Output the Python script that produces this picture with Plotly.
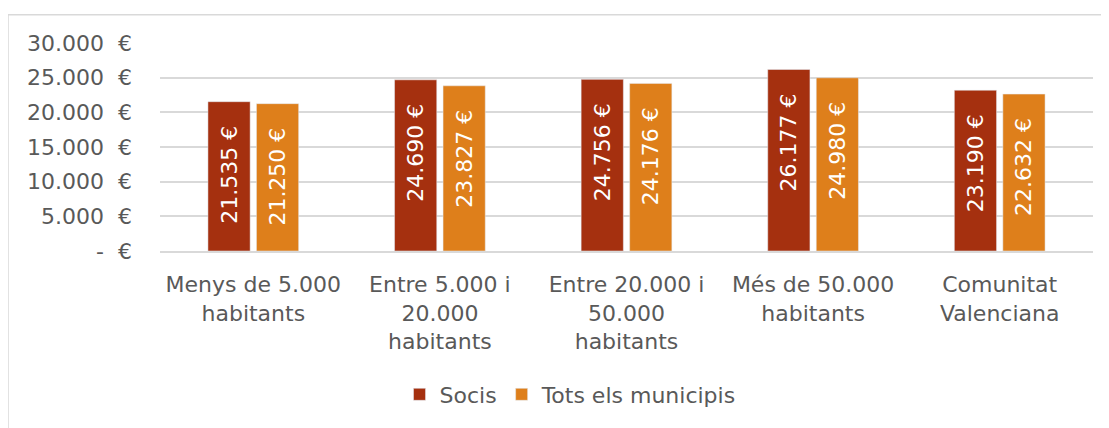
import plotly.graph_objects as go

categories = ["Menys de 5.000<br>habitants", "Entre 5.000 i<br>20.000<br>habitants",
              "Entre 20.000 i<br>50.000<br>habitants", "Més de 50.000<br>habitants",
              "Comunitat<br>Valenciana"]
socis = [21535, 24690, 24756, 26177, 23190]
tots = [21250, 23827, 24176, 24980, 22632]
tick_vals = [0, 5000, 10000, 15000, 20000, 25000, 30000]
tick_text = ["-\u00a0\u00a0€", "5.000\u00a0\u00a0€", "10.000\u00a0\u00a0€", "15.000\u00a0\u00a0€",
             "20.000\u00a0\u00a0€", "25.000\u00a0\u00a0€", "30.000\u00a0\u00a0€"]

FONT = "DejaVu Sans"
GREY = "#595959"
PAD = "\u00a0" * 3


def eur(v):
    return f"{v:,}".replace(",", ".") + "\u00a0€" + PAD


fig = go.Figure()
for name, vals, col in [("Socis", socis, "#A5300F"), ("Tots els municipis", tots, "#DE7F1B")]:
    fig.add_trace(go.Bar(
        x=categories, y=vals, name=name, marker_color=col,
        text=[eur(v) for v in vals], textposition="inside", insidetextanchor="end",
        textangle=-90, textfont=dict(color="white", size=22, family=FONT),
    ))

# page body adds an 8px offset, so the figure is 8px smaller on each side
fig.update_layout(
    width=1101, height=420,
    margin=dict(l=152, r=16, t=35, b=171),
    paper_bgcolor="white", plot_bgcolor="white",
    barmode="group", bargap=0.48, bargroupgap=0.13,
    font=dict(family=FONT, size=22, color=GREY),
    showlegend=True,
    legend=dict(orientation="h", x=0.44, xanchor="center", y=-0.69, yanchor="middle",
                font=dict(size=22, color=GREY), itemwidth=30, traceorder="normal"),
    uniformtext=dict(mode=False),
)
fig.update_yaxes(range=[0, 30000], tickvals=tick_vals, ticktext=tick_text,
                 showgrid=True, gridcolor="#D9D9D9", gridwidth=1.5, zeroline=False,
                 ticklabelstandoff=27, fixedrange=True, automargin=False)
fig.update_xaxes(showline=True, linecolor="#D9D9D9", linewidth=1.5, ticks="",
                 tickangle=0, ticklabelstandoff=13, automargin=False)

# outer chart border: only top and left edges are inside the window
bx0 = (0 - 152) / 933
by1 = (249 - 6) / 214
fig.add_shape(type="line", xref="paper", yref="paper", x0=bx0, x1=1.05, y0=by1, y1=by1,
              line=dict(color="#D9D9D9", width=1.5), layer="below")
fig.add_shape(type="line", xref="paper", yref="paper", x0=bx0, x1=bx0, y0=-0.9, y1=by1,
              line=dict(color="#D9D9D9", width=1.5), layer="below")

fig.write_html("out.html")
